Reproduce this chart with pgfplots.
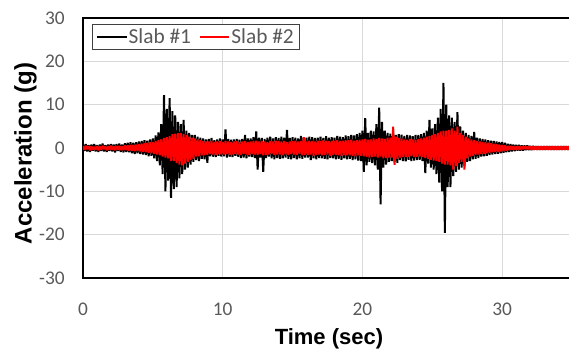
\documentclass[border=0pt]{standalone}
\usepackage{pgfplots}
\pgfplotsset{compat=1.18}
\usepackage{pgfplotstable}
\usepackage{fontspec}
\setmainfont{Carlito}
\newfontfamily\labfont{Liberation Sans}
\definecolor{ticktext}{HTML}{595959}
\definecolor{gridc}{HTML}{D9D9D9}
\definecolor{legdraw}{HTML}{404040}

\pgfplotstableread[row sep=\\]{
t b r\\
0.0 0.8 0.4\\ 0.1 -0.7 -0.4\\ 0.2 0.9 0.5\\ 0.3 -0.8 -0.3\\ 0.4 0.7 0.4\\ 0.5 -0.9 -0.5\\ 0.6 0.8 0.4\\ 0.7 -0.6 -0.4\\ 0.8 0.9 0.3\\ 0.9 -0.8 -0.4\\
1.0 0.7 0.4\\ 1.1 -0.9 -0.5\\ 1.2 0.8 0.4\\ 1.3 -0.7 -0.4\\ 1.4 1.0 0.5\\ 1.5 -0.8 -0.3\\ 1.6 0.7 0.4\\ 1.7 -0.9 -0.5\\ 1.8 0.8 0.4\\ 1.9 -0.7 -0.4\\
2.0 0.9 0.5\\ 2.1 -0.8 -0.4\\ 2.2 0.8 0.4\\ 2.3 -1.0 -0.5\\ 2.4 0.9 0.5\\ 2.5 -0.7 -0.4\\ 2.6 1.0 0.5\\ 2.7 -0.9 -0.5\\ 2.8 0.8 0.4\\ 2.9 -1.0 -0.5\\
3.0 1.1 0.6\\ 3.1 -0.9 -0.5\\ 3.2 1.2 0.6\\ 3.3 -1.0 -0.6\\ 3.4 1.3 0.7\\ 3.5 -1.2 -0.6\\ 3.6 1.2 0.7\\ 3.7 -1.4 -0.7\\ 3.8 1.3 0.8\\ 3.9 -1.2 -0.7\\
4.0 1.5 0.9\\ 4.1 -1.4 -0.8\\ 4.2 1.6 1.0\\ 4.3 -1.5 -0.9\\ 4.4 1.8 1.1\\ 4.5 -1.6 -1.0\\ 4.6 1.7 1.2\\ 4.7 -1.9 -1.1\\ 4.8 2.0 1.3\\ 4.9 -1.8 -1.2\\
5.0 2.2 1.4\\ 5.1 -2.4 -1.3\\ 5.2 2.9 1.6\\ 5.3 -3.0 -1.5\\ 5.4 3.6 1.8\\ 5.5 -4.0 -1.7\\ 5.6 5.5 2.0\\ 5.7 -6.0 -2.0\\ 5.8 12.2 2.3\\ 5.9 -10.0 -2.2\\
6.0 9.0 2.5\\ 6.1 -7.5 -2.4\\ 6.2 11.5 2.8\\ 6.3 -11.5 -3.0\\ 6.4 8.5 3.2\\ 6.5 -9.5 -3.0\\ 6.6 7.5 3.3\\ 6.7 -9.0 -3.5\\ 6.8 6.0 3.4\\ 6.9 -7.0 -3.8\\
7.0 5.5 3.5\\ 7.1 -6.0 -4.0\\ 7.2 6.5 3.2\\ 7.3 -5.0 -3.6\\ 7.4 4.0 3.0\\ 7.5 -4.5 -3.2\\ 7.6 3.5 2.6\\ 7.7 -3.8 -2.8\\ 7.8 3.0 2.4\\ 7.9 -3.2 -2.5\\
8.0 3.0 2.2\\ 8.1 -2.8 -2.0\\ 8.2 2.6 2.0\\ 8.3 -3.0 -1.9\\ 8.4 2.4 1.8\\ 8.5 -2.5 -1.7\\ 8.6 2.2 1.6\\ 8.7 -2.6 -1.7\\ 8.8 2.0 1.5\\ 8.9 -3.4 -1.6\\
9.0 2.1 1.5\\ 9.1 -1.9 -1.4\\ 9.2 2.3 1.6\\ 9.3 -2.0 -1.5\\ 9.4 1.8 1.4\\ 9.5 -2.1 -1.6\\ 9.6 2.0 1.5\\ 9.7 -1.8 -1.4\\ 9.8 2.2 1.6\\ 9.9 -2.0 -1.5\\
10.0 2.0 1.4\\ 10.1 -1.9 -1.5\\ 10.2 4.3 1.6\\ 10.3 -2.2 -1.4\\ 10.4 2.1 1.5\\ 10.5 -2.0 -1.6\\ 10.6 1.9 1.4\\ 10.7 -2.1 -1.5\\ 10.8 2.0 1.5\\ 10.9 -1.8 -1.4\\
11.0 2.1 1.6\\ 11.1 -2.0 -1.5\\ 11.2 1.9 1.4\\ 11.3 -2.3 -1.6\\ 11.4 2.1 1.5\\ 11.5 -2.2 -1.4\\ 11.6 3.0 1.6\\ 11.7 -2.4 -1.5\\ 11.8 2.2 1.4\\ 11.9 -2.0 -1.6\\
12.0 2.2 1.5\\ 12.1 -2.1 -1.4\\ 12.2 2.5 1.6\\ 12.3 -2.3 -1.5\\ 12.4 3.8 1.7\\ 12.5 -5.0 -1.6\\ 12.6 2.4 1.5\\ 12.7 -2.2 -1.4\\ 12.8 2.3 1.6\\ 12.9 -5.5 -1.7\\
13.0 2.1 1.5\\ 13.1 -2.3 -1.6\\ 13.2 2.4 1.4\\ 13.3 -2.0 -1.5\\ 13.4 2.6 1.6\\ 13.5 -2.4 -1.4\\ 13.6 2.2 1.5\\ 13.7 -2.6 -1.6\\ 13.8 2.5 1.7\\ 13.9 -2.3 -1.5\\
14.0 2.3 1.6\\ 14.1 -2.5 -1.5\\ 14.2 2.6 1.5\\ 14.3 -2.4 -1.7\\ 14.4 2.4 1.6\\ 14.5 -2.2 -1.5\\ 14.6 4.2 1.4\\ 14.7 -2.5 -1.6\\ 14.8 2.3 1.5\\ 14.9 -2.6 -1.4\\
15.0 2.5 1.6\\ 15.1 -2.3 -1.5\\ 15.2 2.4 1.7\\ 15.3 -2.6 -1.6\\ 15.4 2.2 1.5\\ 15.5 -2.4 -1.4\\ 15.6 2.8 1.6\\ 15.7 -2.5 -1.7\\ 15.8 2.3 2.5\\ 15.9 -2.2 -1.6\\
16.0 2.4 1.5\\ 16.1 -2.2 -1.6\\ 16.2 2.6 1.7\\ 16.3 -2.8 -1.5\\ 16.4 2.5 1.6\\ 16.5 -2.4 -1.8\\ 16.6 2.3 1.5\\ 16.7 -2.6 -1.6\\ 16.8 2.4 1.7\\ 16.9 -2.3 -1.5\\
17.0 2.6 1.6\\ 17.1 -2.4 -1.7\\ 17.2 2.3 1.8\\ 17.3 -2.5 -1.6\\ 17.4 2.7 1.7\\ 17.5 -2.6 -1.5\\ 17.6 2.4 1.6\\ 17.7 -2.3 -1.8\\ 17.8 2.5 1.7\\ 17.9 -2.4 -1.6\\
18.0 2.4 1.7\\ 18.1 -2.6 -1.6\\ 18.2 2.8 1.8\\ 18.3 -2.5 -1.7\\ 18.4 2.6 1.6\\ 18.5 -2.7 -1.8\\ 18.6 2.5 1.7\\ 18.7 -2.4 -1.6\\ 18.8 2.9 1.8\\ 18.9 -2.6 -1.7\\
19.0 2.7 1.8\\ 19.1 -2.5 -1.7\\ 19.2 3.0 1.9\\ 19.3 -2.8 -1.8\\ 19.4 2.9 1.7\\ 19.5 -2.6 -1.9\\ 19.6 3.2 1.8\\ 19.7 -2.9 -1.7\\ 19.8 3.5 1.9\\ 19.9 -3.0 -1.8\\
20.0 4.0 2.0\\ 20.1 -5.5 -1.9\\ 20.2 6.9 2.1\\ 20.3 -4.0 -2.0\\ 20.4 3.5 1.9\\ 20.5 -3.2 -2.2\\ 20.6 4.0 2.0\\ 20.7 -3.5 -2.1\\ 20.8 3.8 2.2\\ 20.9 -4.0 -2.0\\
21.0 5.5 2.1\\ 21.1 -5.0 -2.2\\ 21.2 9.3 2.3\\ 21.3 -13.0 -2.0\\ 21.4 6.0 2.2\\ 21.5 -4.5 -2.4\\ 21.6 4.0 2.1\\ 21.7 -3.8 -2.3\\ 21.8 3.5 2.4\\ 21.9 -3.2 -2.2\\
22.0 3.3 2.4\\ 22.1 -3.0 -2.2\\ 22.2 3.5 4.9\\ 22.3 -3.2 -3.9\\ 22.4 3.0 2.6\\ 22.5 -3.4 -2.5\\ 22.6 3.2 2.3\\ 22.7 -2.8 -2.2\\ 22.8 3.1 2.2\\ 22.9 -3.0 -2.1\\
23.0 2.8 2.0\\ 23.1 -3.1 -2.1\\ 23.2 3.0 1.9\\ 23.3 -2.7 -2.0\\ 23.4 2.9 2.1\\ 23.5 -3.0 -1.9\\ 23.6 2.7 2.0\\ 23.7 -2.9 -2.1\\ 23.8 3.0 1.9\\ 23.9 -2.8 -2.0\\
24.0 3.0 2.1\\ 24.1 -2.7 -2.0\\ 24.2 3.2 2.2\\ 24.3 -3.0 -2.1\\ 24.4 3.5 2.4\\ 24.5 -5.8 -2.3\\ 24.6 4.0 2.6\\ 24.7 -3.6 -2.5\\ 24.8 6.5 2.8\\ 24.9 -4.5 -2.7\\
25.0 4.5 3.0\\ 25.1 -5.0 -2.9\\ 25.2 5.5 3.2\\ 25.3 -6.0 -3.0\\ 25.4 7.0 3.5\\ 25.5 -8.0 -3.2\\ 25.6 9.0 3.8\\ 25.7 -10.0 -3.6\\ 25.8 15.0 4.0\\ 25.9 -19.6 -3.8\\
26.0 10.0 4.0\\ 26.1 -9.0 -3.8\\ 26.2 7.5 4.2\\ 26.3 -9.0 -4.0\\ 26.4 7.0 4.5\\ 26.5 -6.5 -5.0\\ 26.6 6.0 4.0\\ 26.7 -5.5 -4.2\\ 26.8 8.3 4.9\\ 26.9 -5.0 -3.5\\
27.0 5.0 3.5\\ 27.1 -4.5 -3.2\\ 27.2 4.0 3.0\\ 27.3 -4.2 -5.0\\ 27.4 3.5 2.6\\ 27.5 -3.2 -2.4\\ 27.6 3.0 2.2\\ 27.7 -3.0 -2.0\\ 27.8 2.8 2.0\\ 27.9 -2.6 -1.8\\
28.0 3.7 1.8\\ 28.1 -2.5 -1.6\\ 28.2 2.4 1.6\\ 28.3 -2.3 -1.5\\ 28.4 2.2 1.5\\ 28.5 -2.0 -1.4\\ 28.6 2.1 1.4\\ 28.7 -1.9 -1.3\\ 28.8 2.0 1.3\\ 28.9 -1.8 -1.2\\
29.0 1.8 1.2\\ 29.1 -1.6 -1.1\\ 29.2 1.7 1.1\\ 29.3 -1.5 -1.0\\ 29.4 1.6 1.0\\ 29.5 -1.4 -0.9\\ 29.6 1.5 0.9\\ 29.7 -1.3 -0.9\\ 29.8 1.4 0.8\\ 29.9 -1.2 -0.8\\
30.0 1.4 0.7\\ 30.1 -1.1 -0.7\\ 30.2 1.2 0.6\\ 30.3 -1.0 -0.6\\ 30.4 1.0 0.5\\ 30.5 -0.9 -0.5\\ 30.6 0.9 0.5\\ 30.7 -0.8 -0.4\\ 30.8 0.8 0.4\\ 30.9 -0.7 -0.4\\
31.0 0.7 0.4\\ 31.1 -0.6 -0.4\\ 31.2 0.7 0.4\\ 31.3 -0.6 -0.4\\ 31.4 0.6 0.4\\ 31.5 -0.6 -0.3\\ 31.6 0.6 0.4\\ 31.7 -0.5 -0.3\\ 31.8 0.6 0.4\\ 31.9 -0.5 -0.3\\
32.0 0.5 0.4\\ 32.1 -0.5 -0.4\\ 32.2 0.5 0.4\\ 32.3 -0.4 -0.4\\ 32.4 0.4 0.4\\ 32.5 -0.4 -0.4\\ 32.6 0.4 0.4\\ 32.7 -0.4 -0.4\\ 32.8 0.4 0.4\\ 32.9 -0.4 -0.4\\
33.0 0.4 0.4\\ 33.1 -0.4 -0.4\\ 33.2 0.4 0.4\\ 33.3 -0.4 -0.4\\ 33.4 0.4 0.4\\ 33.5 -0.4 -0.4\\ 33.6 0.4 0.4\\ 33.7 -0.4 -0.4\\ 33.8 0.4 0.4\\ 33.9 -0.4 -0.4\\
34.0 0.4 0.4\\ 34.1 -0.4 -0.4\\ 34.2 0.4 0.4\\ 34.3 -0.4 -0.4\\ 34.4 0.4 0.4\\ 34.5 -0.4 -0.4\\ 34.6 0.4 0.4\\ 34.7 -0.4 -0.4\\ 34.8 0.4 0.4\\ 34.9 -0.4 -0.4\\
35.0 0.4 0.4\\
}\acc

\begin{document}
\begin{tikzpicture}
\begin{axis}[
  at={(0pt,0pt)}, anchor=south west,
  scale only axis, width=366.75pt, height=195pt,
  xmin=0, xmax=35, ymin=-30, ymax=30,
  xtick={0,10,20,30}, ytick={-30,-20,-10,0,10,20,30},
  grid=major, major grid style={draw=gridc, line width=0.75pt},
  major tick length=0pt,
  axis line style={black, line width=1.5pt},
  /pgf/number format/assume math mode=true,
  tick label style={font=\fontsize{14.5}{16}\selectfont, text=ticktext},
  xticklabel style={anchor=base, inner sep=0pt, yshift=-27.75pt},
  yticklabel style={anchor=east, inner sep=0pt, xshift=-13.5pt},
  xlabel={Time (sec)}, ylabel={Acceleration (g)},
  xlabel style={font=\labfont\bfseries\fontsize{16.5}{18}\selectfont, at={(axis description cs:0.503,-0.254)}, anchor=base, inner sep=0pt},
  ylabel style={font=\labfont\bfseries\fontsize{18}{20}\selectfont, at={(axis description cs:-0.105,0.479)}, anchor=base, inner sep=0pt},
  legend columns=2,
  legend style={at={(axis description cs:0.0185,0.977)}, anchor=north west,
    draw=legdraw, line width=0.6pt, fill=white, inner xsep=3pt, inner ysep=2pt,
    font=\fontsize{16}{18}\selectfont, text=ticktext,
    nodes={inner xsep=1pt, inner ysep=1pt},
    /tikz/every even column/.append style={column sep=5pt}},
  legend image code/.code={\draw[#1, line width=1.2pt] (0pt,0pt) -- (22pt,0pt);},
]
\addplot[black, line width=1.5pt, line join=miter, miter limit=1] table[x=t, y=b] {\acc};
\addlegendentry{Slab \#1}
\addplot[red, line width=1.5pt, line join=miter, miter limit=1] table[x=t, y=r] {\acc};
\addlegendentry{Slab \#2}
\end{axis}
\pgfresetboundingbox
\useasboundingbox (-62.25pt,-54.75pt) rectangle (364.5pt,208.5pt);
\end{tikzpicture}
\end{document}
